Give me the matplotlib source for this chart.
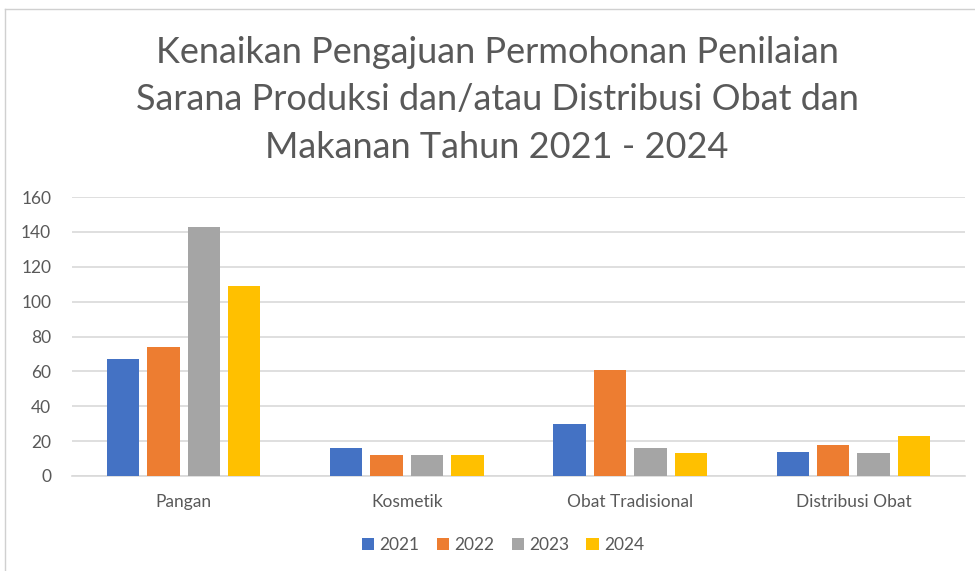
import numpy as np
import matplotlib.pyplot as plt
from matplotlib.lines import Line2D

# Data
kategori = ['Pangan', 'Kosmetik', 'Obat Tradisional', 'Distribusi Obat']
tahun = ['2021', '2022', '2023', '2024']
v2021 = [67, 16, 30, 14]
v2022 = [74, 12, 61, 18]
v2023 = [143, 12, 16, 13]
v2024 = [109, 12, 13, 23]
nilai = [v2021, v2022, v2023, v2024]
warna = ['#4472C4', '#ED7D31', '#A5A5A5', '#FFC000']

plt.rcParams['font.family'] = ['Lato', 'DejaVu Sans']
teks = '#595959'

fig = plt.figure(figsize=(9.75, 5.71), dpi=100)
ax = fig.add_axes([72/975, 1 - 476/571, (965-72)/975, (476-197)/571])

x = np.arange(len(kategori))
lebar = 0.145
jarak = 0.181
for i in range(4):
    ax.bar(x + (i - 1.5)*jarak, nilai[i], width=lebar, color=warna[i],
           label=tahun[i], zorder=3)

ax.set_xlim(-0.5, 3.5)
ax.set_ylim(0, 160)
ax.set_yticks(range(0, 161, 20))
ax.set_xticks(x)
ax.set_xticklabels(kategori)
ax.grid(axis='y', color='#D9D9D9', linewidth=1.2, zorder=0)
for s in ['top', 'right', 'left']:
    ax.spines[s].set_visible(False)
ax.spines['bottom'].set_color('#D9D9D9')
ax.spines['bottom'].set_linewidth(1.2)
ax.tick_params(axis='both', length=0, labelsize=12.5, colors=teks)
ax.tick_params(axis='x', pad=13)
ax.tick_params(axis='y', pad=15)

fig.text(497/975, 1 - 100/571,
         'Kenaikan Pengajuan Permohonan Penilaian\nSarana Produksi dan/atau Distribusi Obat dan\nMakanan Tahun 2021 - 2024',
         ha='center', va='center', fontsize=26, color=teks, linespacing=1.55)

fig.legend(loc='center', bbox_to_anchor=(503/975, 1 - 545/571), ncol=4,
           frameon=False, fontsize=12.5, labelcolor=teks, handlelength=0.7,
           handleheight=0.7, handletextpad=0.3, columnspacing=1.0)

# bingkai chart
fig.add_artist(Line2D([5/975, 1], [1 - 9/571, 1 - 9/571], color='#D0D0D0', lw=1))
fig.add_artist(Line2D([5/975, 5/975], [0, 1 - 9/571], color='#D0D0D0', lw=1))

fig.savefig('out.png', dpi=100, facecolor='white')
